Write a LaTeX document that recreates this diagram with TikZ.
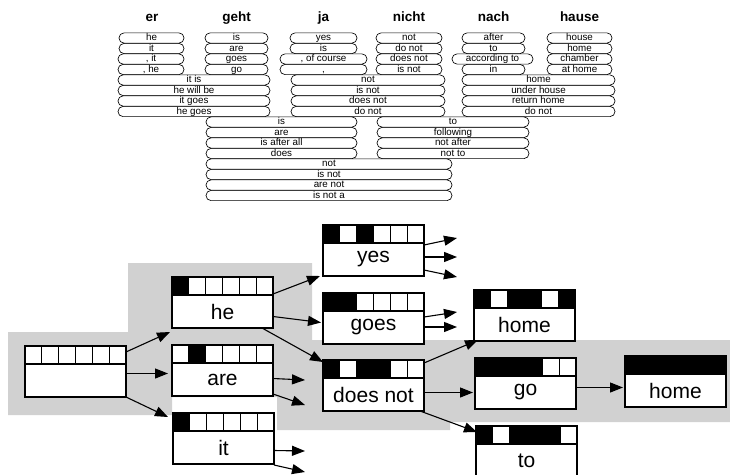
\documentclass[tikz,border=0pt]{standalone}
\usepackage{fontspec}
\setmainfont{Liberation Sans}
\usetikzlibrary{arrows.meta,calc}
\tikzset{
  tcell/.style={draw, line width=0.65pt, rounded corners=5pt, inner sep=0pt, outer sep=0pt,
    minimum height=10.2pt, font=\fontsize{9.8}{9.8}\selectfont, text height=6.8pt, text depth=1.8pt},
  hdr/.style={font=\fontsize{13.5}{13.5}\selectfont\bfseries, anchor=base, inner sep=0pt},
  wbox/.style={draw, line width=1.1pt, minimum width=101pt, minimum height=51pt, inner sep=0pt,
    outer sep=0pt, anchor=north west, fill=white},
  wtxt/.style={font=\fontsize{21}{21}\selectfont, inner sep=0pt},
  arr/.style={line width=1.1pt, -{Triangle[length=13pt,width=10pt]}},
  shadearea/.style={fill=black!18, draw=none}
}
\newcommand\tb[5]{\node[tcell, minimum width={(#3-#2)*1pt}] (#1) at ({(#2+#3)/2},{38+(#4-1)*10.5}) {#5};}
\newcommand\wb[5]{%
  \node[wbox] (#1) at (#2,#3) {};
  \foreach \c [count=\i] in {#5}{
    \draw[line width=0.8pt, fill=\c] ($(#1.north west)+({(\i-1)*101/6},0)$) rectangle ++({101/6},18);
  }
  \draw[line width=1.1pt] (#1.north west) rectangle ($(#1.south east)$);
  \draw[line width=1.1pt] ($(#1.north west)+(0,18)$) -- ++(101,0);
  \node[wtxt] (#1-t) at ($(#1.north)+(0,34.5)$) {#4};
}
\begin{document}
\begin{tikzpicture}[x=1pt,y=-1pt]
\useasboundingbox (0,0) rectangle (730,474);
% headers
\node[hdr] (h1) at (152,21) {er};
\node[hdr] (h2) at (236.5,21) {geht};
\node[hdr] (h3) at (323.5,21) {ja};
\node[hdr] (h4) at (409,21) {nicht};
\node[hdr] (h5) at (493.5,21) {nach};
\node[hdr] (h6) at (579.5,21) {hause};
% rows 1-4
\tb{a1}{119}{184}{1}{he}
\tb{a2}{119}{184}{2}{it}
\tb{a3}{118}{184}{3}{, it}
\tb{a4}{118}{184}{4}{, he}
\tb{b1}{205}{268}{1}{is}
\tb{b2}{205}{268}{2}{are}
\tb{b3}{205}{268}{3}{goes}
\tb{b4}{205}{268}{4}{go}
\tb{c1}{290}{357}{1}{yes}
\tb{c2}{290}{357}{2}{is}
\tb{c3}{280}{367}{3}{, of course}
\tb{c4}{280}{367}{4}{,}
\tb{d1}{376}{442}{1}{not}
\tb{d2}{376}{442}{2}{do not}
\tb{d3}{376}{442}{3}{does not}
\tb{d4}{376}{442}{4}{is not}
\tb{e1}{462}{525}{1}{after}
\tb{e2}{462}{525}{2}{to}
\tb{e3}{452}{533}{3}{according to}
\tb{e4}{462}{525}{4}{in}
\tb{f1}{547}{612}{1}{house}
\tb{f2}{547}{612}{2}{home}
\tb{f3}{547}{612}{3}{chamber}
\tb{f4}{547}{612}{4}{at home}
% rows 5-8
\tb{g1}{118}{270}{5}{it is}
\tb{g2}{118}{270}{6}{he will be}
\tb{g3}{118}{270}{7}{it goes}
\tb{g4}{118}{270}{8}{he goes}
\tb{h1r}{291}{445}{5}{not}
\tb{h2r}{291}{445}{6}{is not}
\tb{h3r}{291}{445}{7}{does not}
\tb{h4r}{291}{445}{8}{do not}
\tb{i1}{462}{615}{5}{home}
\tb{i2}{462}{615}{6}{under house}
\tb{i3}{462}{615}{7}{return home}
\tb{i4}{462}{615}{8}{do not}
% rows 9-12
\tb{j1}{206}{357}{9}{is}
\tb{j2}{206}{357}{10}{are}
\tb{j3}{206}{357}{11}{is after all}
\tb{j4}{206}{357}{12}{does}
\tb{k1}{377}{529}{9}{to}
\tb{k2}{377}{529}{10}{following}
\tb{k3}{377}{529}{11}{not after}
\tb{k4}{377}{529}{12}{not to}
% rows 13-16
\tb{l1}{206}{452}{13}{not}
\tb{l2}{206}{452}{14}{is not}
\tb{l3}{206}{452}{15}{are not}
\tb{l4}{206}{452}{16}{is not a}
% shaded hypothesis path
\fill[shadearea] (8,332) -- (128,332) -- (128,263) -- (312,263) -- (312,340) -- (730,340)
  -- (730,422) -- (450,422) -- (450,430) -- (277,430) -- (277,397) -- (172,397)
  -- (172,415) -- (8,415) -- cycle;
% boxes
\wb{root}{25}{346}{}{white,white,white,white,white,white}
\wb{he}{172}{277}{he}{black,white,white,white,white,white}
\wb{are}{172}{345}{are}{white,black,white,white,white,white}
\wb{it}{173}{413}{it}{black,white,white,white,white,white}
\wb{yes}{323}{225}{yes}{black,white,black,white,white,white}
\wb{goes}{323}{293}{goes}{black,black,white,white,white,white}
\wb{dnot}{323}{360}{does not}{black,white,black,black,white,white}
\wb{homea}{474}{290}{home}{black,white,black,black,white,black}
\wb{go}{475}{358}{go}{black,black,black,black,white,white}
\wb{homeb}{625}{356}{home}{black,black,black,black,black,black}
\wb{to}{476}{426}{to}{black,white,black,black,black,white}
% dangling end points
\coordinate (ar1) at (305,380);
\coordinate (ar2) at (305,405);
\coordinate (it1) at (305,451);
\coordinate (it2) at (305,472);
\coordinate (ye1) at (457,238);
\coordinate (ye2) at (457,257);
\coordinate (ye3) at (457,277);
\coordinate (go1) at (457,312);
\coordinate (go2) at (457,327);
% connectors
\draw[arr] ([yshift=-6pt]root.north east) -- ([xshift=-2pt,yshift=-4pt]he.south west);
\draw[arr] ([yshift=-2pt]root.east) -- ([xshift=-4pt,yshift=-3pt]are.west);
\draw[arr] (root.south east) -- ([xshift=-5pt,yshift=-4pt]it.north west);
\draw[arr] ([yshift=-17pt]he.north east) -- ([xshift=-3pt]yes.south west);
\draw[arr] ([yshift=-14pt]he.east) -- ([xshift=-2pt,yshift=-4pt]goes.west);
\draw[arr] ([xshift=-11pt]he.south east) -- ([yshift=-2pt]dnot.north west);
\draw[arr] ([yshift=-8pt]are.east) -- (ar1);
\draw[arr] ([yshift=2pt]are.south east) -- (ar2);
\draw[arr] ([yshift=-12pt]it.east) -- (it1);
\draw[arr] ([yshift=-1pt]it.south east) -- (it2);
\draw[arr] ([yshift=-20pt]yes.north east) -- (ye1);
\draw[arr] ([yshift=-32pt]yes.north east) -- (ye2);
\draw[arr] ([yshift=-45pt]yes.north east) -- (ye3);
\draw[arr] ([yshift=-24pt]goes.north east) -- (go1);
\draw[arr] ([yshift=-34pt]goes.north east) -- (go2);
\draw[arr] ([yshift=-3pt]dnot.north east) -- ([xshift=4pt,yshift=1pt]homea.south west);
\draw[arr] ([yshift=-7pt]dnot.east) -- ([xshift=-2pt,yshift=-9pt]go.west);
\draw[arr] ([xshift=-4pt]dnot.south east) -- ([xshift=1pt,yshift=-6pt]to.north west);
\draw[arr] ([yshift=-4pt]go.east) -- ([xshift=-2pt,yshift=-6pt]homeb.west);
\end{tikzpicture}
\end{document}
